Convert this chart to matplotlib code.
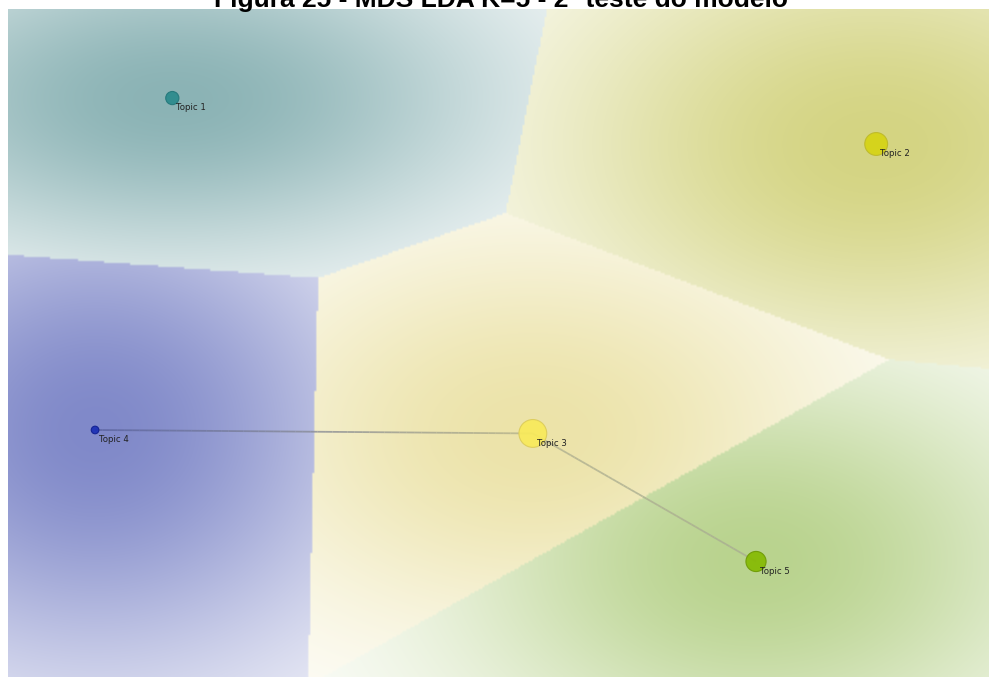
import numpy as np
import matplotlib
matplotlib.use("Agg")
import matplotlib.pyplot as plt
from matplotlib.collections import LineCollection
from matplotlib.colors import to_rgb

# MDS coordinates of the LDA topics (K=5)
topic_labels = ["Topic 1", "Topic 2", "Topic 3", "Topic 4", "Topic 5"]
mds_x = [-0.133, 0.154, 0.014, -0.1645, 0.105]
mds_y = [0.176, 0.143, -0.065, -0.0625, -0.157]
# share of the corpus assigned to each topic (drives bubble area)
topic_share = [0.09, 0.27, 0.40, 0.03, 0.21]
# strongest similarity links between topics
links = [(3, 2), (2, 4)]

marker_colors = ["#2b8a8c", "#d6d313", "#f8ea5a", "#1b2fb5", "#85ba02"]
edge_colors = ["#23777a", "#bdb92a", "#dccc5a", "#101f90", "#6e9a05"]
link_colors = [("#5a63a0", "#b8b58a"), ("#b0b090", "#a8ad92")]
region_colors = ["#8bb3b5", "#d4d482", "#ece3a9", "#8089c9", "#b9d38e"]
# spread of each region's tint (x, y) in data units
glow = [(0.100, 0.085), (0.100, 0.115), (0.090, 0.105), (0.085, 0.130), (0.090, 0.105)]

W, H = 989, 677
fig = plt.figure(figsize=(W / 100, H / 100), dpi=100)
top_px = 9
ax = fig.add_axes([8 / W, 0, 1 - 8 / W, 1 - top_px / H])
xlim = (-0.20, 0.20)
ylim = (-0.24, 0.24)

# shaded Voronoi map: each cell takes the tint of its nearest topic,
# fading towards white with distance from that topic
nx, ny = 490, 334
gx = np.linspace(xlim[0], xlim[1], nx)
gy = np.linspace(ylim[1], ylim[0], ny)
X, Y = np.meshgrid(gx, gy)
px = np.array(mds_x)[:, None, None]
py = np.array(mds_y)[:, None, None]
d2 = (X[None] - px) ** 2 + (Y[None] - py) ** 2
owner = np.argmin(d2, axis=0)
img = np.ones((ny, nx, 3))
for k in range(len(mds_x)):
    sx, sy = glow[k]
    a = np.exp(-0.5 * (((X - mds_x[k]) / sx) ** 2 + ((Y - mds_y[k]) / sy) ** 2))
    base = np.array(to_rgb(region_colors[k]))
    col = 1 - a[..., None] * (1 - base)
    img[owner == k] = col[owner == k]
ax.imshow(img, extent=(xlim[0], xlim[1], ylim[0], ylim[1]), aspect="auto",
          interpolation="bilinear", zorder=0)

# links between related topics, shaded from one end colour to the other
for (i, j), (ca, cb) in zip(links, link_colors):
    t = np.linspace(0, 1, 60)
    xs = mds_x[i] + (mds_x[j] - mds_x[i]) * t
    ys = mds_y[i] + (mds_y[j] - mds_y[i]) * t
    segs = np.stack([np.column_stack([xs[:-1], ys[:-1]]),
                     np.column_stack([xs[1:], ys[1:]])], axis=1)
    c0, c1 = np.array(to_rgb(ca)), np.array(to_rgb(cb))
    cols = [tuple(c0 + (c1 - c0) * s) + (0.8,) for s in t[:-1]]
    ax.add_collection(LineCollection(segs, colors=cols, linewidths=1.3, zorder=2))

# topic bubbles
radius_px = [22 * np.sqrt(s) for s in topic_share]
sizes = [(2 * r * 0.72) ** 2 for r in radius_px]
ax.scatter(mds_x, mds_y, s=sizes, c=marker_colors, edgecolors=edge_colors,
           linewidths=0.8, alpha=0.92, zorder=3)
for x, y, lab in zip(mds_x, mds_y, topic_labels):
    ax.annotate(lab, (x, y), xytext=(3, -7), textcoords="offset points",
                ha="left", va="center", fontsize=6.2, color="#222222",
                family="DejaVu Sans", zorder=4)

ax.set_xlim(xlim)
ax.set_ylim(ylim)
ax.axis("off")

fig.text(501 / W, 1 - 7 / H, "Figura 25 - MDS LDA K=5 - 2º teste do modelo",
         ha="center", va="baseline", fontsize=19, fontweight="bold",
         family="Liberation Sans", color="black")

fig.savefig("out.png", dpi=100)
